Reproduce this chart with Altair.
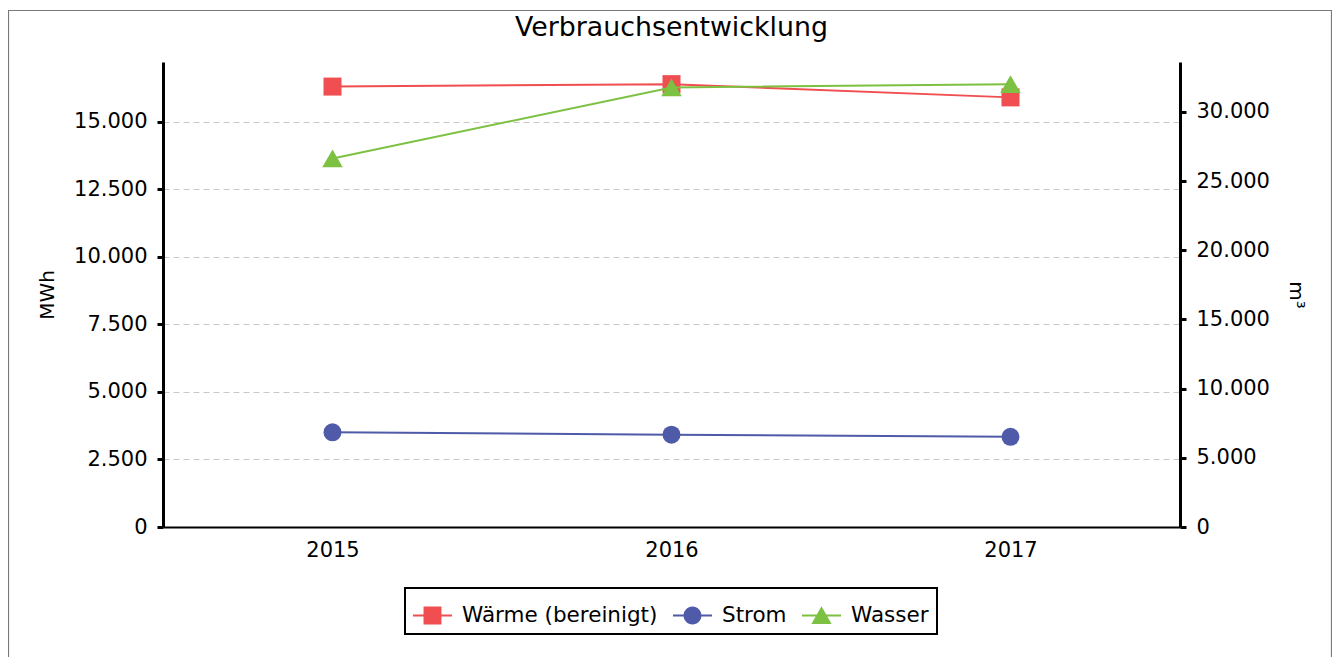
import altair as alt
import pandas as pd

YEARS = ["2015", "2016", "2017"]
SERIES = ["Wärme (bereinigt)", "Strom", "Wasser"]
COLORS = ["#F04E50", "#4F5BA8", "#7DC142"]
WAERME = [16310, 16400, 15910]
STROM = [3505, 3420, 3340]
WASSER = [26630, 31760, 32000]
LEFT_TICKS = [0, 2500, 5000, 7500, 10000, 12500, 15000]
RIGHT_TICKS = [0, 5000, 10000, 15000, 20000, 25000, 30000]
LEFT_MAX = 17220
RIGHT_MAX = 33600

rows = []
for name, vals in zip(SERIES, [WAERME, STROM, WASSER]):
    for yr, v in zip(YEARS, vals):
        rows.append({"year": yr, "series": name, "value": v})
df = pd.DataFrame(rows)

FONT = "DejaVu Sans"
LBL = "replace(format(datum.value, ','), ',', '.')"

x_enc = alt.X("year:O", sort=YEARS, title=None,
              scale=alt.Scale(type="point", padding=0.5),
              axis=alt.Axis(labelAngle=0, ticks=False, domainColor="black", domainWidth=2,
                            labelFontSize=21, labelPadding=12, grid=False))

y_left = alt.Y("value:Q", title="MWh",
               scale=alt.Scale(domain=[0, LEFT_MAX], nice=False, zero=True),
               axis=alt.Axis(orient="left", values=LEFT_TICKS, labelExpr=LBL, grid=True,
                             gridColor="#c8c8c8", gridDash=[6, 4], gridWidth=1,
                             domainColor="black", domainWidth=3, tickColor="black",
                             tickWidth=3, tickSize=6, labelFontSize=21, labelPadding=10,
                             titleFontSize=20, titlePadding=16))
y_right = alt.Y("value:Q", title="m³",
                scale=alt.Scale(domain=[0, RIGHT_MAX], nice=False, zero=True),
                axis=alt.Axis(orient="right", values=RIGHT_TICKS, labelExpr=LBL, grid=False,
                              domainColor="black", domainWidth=3, tickColor="black",
                              tickWidth=3, tickSize=6, labelFontSize=21, labelPadding=10,
                              titleFontSize=20, titlePadding=16))

base = alt.Chart(df)


def sel(name):
    return base.transform_filter(alt.datum.series == name)


left = alt.layer(
    sel(SERIES[0]).mark_line(strokeWidth=2, color=COLORS[0]).encode(x=x_enc, y=y_left),
    sel(SERIES[1]).mark_line(strokeWidth=2, color=COLORS[1]).encode(x=x_enc, y=y_left),
    sel(SERIES[0]).mark_point(shape="square", filled=True, size=324, opacity=1, color=COLORS[0])
        .encode(x=x_enc, y=y_left),
    sel(SERIES[1]).mark_point(shape="circle", filled=True, size=324, opacity=1, color=COLORS[1])
        .encode(x=x_enc, y=y_left),
)

right = alt.layer(
    sel(SERIES[2]).mark_line(strokeWidth=2, color=COLORS[2]).encode(x=x_enc, y=y_right),
    sel(SERIES[2]).mark_point(shape="triangle-up", filled=True, size=420, opacity=1, color=COLORS[2])
        .encode(x=x_enc, y=y_right),
)

LINE = "M-1,-0.055H1V0.055H-1Z "
PATHS = [
    LINE + "M-0.46,-0.46H0.46V0.46H-0.46Z",
    LINE + "M0.46,0A0.46,0.46 0 1,1 -0.46,0A0.46,0.46 0 1,1 0.46,0Z",
    LINE + "M0,-0.47L0.52,0.43L-0.52,0.43Z",
]

leg = alt.Legend(title=None, orient="none", legendX=242, legendY=526, direction="horizontal",
                 strokeColor="black", padding=8, labelFontSize=21.5, labelFont=FONT,
                 labelColor="black", labelLimit=400, symbolSize=1521, labelOffset=10,
                 columnPadding=15, symbolStrokeWidth=0)

legend_layer = base.mark_point(filled=True, opacity=1, clip=True).encode(
    x=x_enc,
    y=alt.value(-800),
    color=alt.Color("series:N", scale=alt.Scale(domain=SERIES, range=COLORS), legend=leg),
    shape=alt.Shape("series:N", scale=alt.Scale(domain=SERIES, range=PATHS), legend=leg),
)

border = alt.Chart(pd.DataFrame({"a": [0]})).mark_rect(
    fill=None, stroke="#7a7a7a", strokeWidth=1.2).encode(
    x=alt.value(-154.5), x2=alt.value(1168.5), y=alt.value(-51.5), y2=alt.value(700))

chart = alt.layer(left, right, legend_layer, border).resolve_scale(y="independent").properties(
    width=1017, height=465,
    title=alt.TitleParams("Verbrauchsentwicklung", fontSize=26.8, font=FONT, fontWeight="normal",
                          anchor="middle", frame="group", offset=0, dy=32, color="black"),
    padding={"left": 155, "top": 54, "right": 152, "bottom": 130},
    autosize=alt.AutoSizeParams(type="none"),
).configure_axis(
    labelFont=FONT, titleFont=FONT, labelColor="black", titleColor="black",
    titleFontWeight="normal",
).configure_legend(
    strokeWidth=2,
).configure_view(stroke=None)

chart.save("out.html", embed_options={"renderer": "svg", "actions": False})
